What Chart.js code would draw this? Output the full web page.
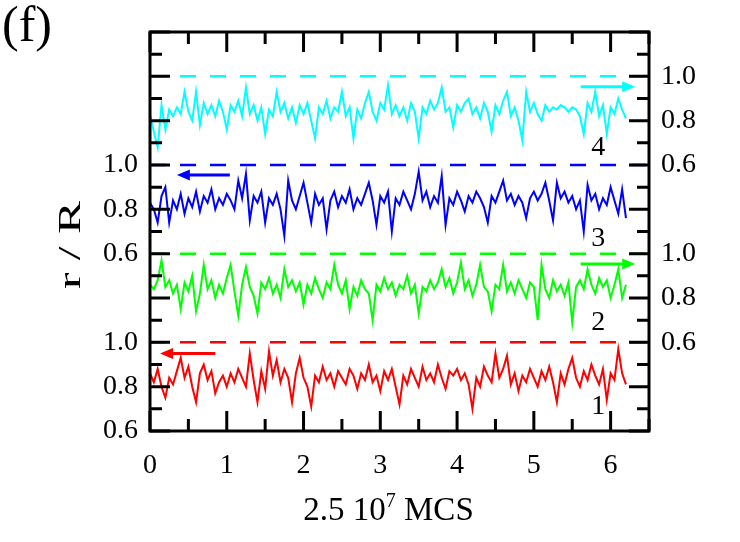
<!DOCTYPE html>
<html>
<head>
<meta charset="utf-8">
<script src="https://cdn.jsdelivr.net/npm/chart.js@4.4.1/dist/chart.umd.min.js"></script>
<style>
  html, body { margin: 0; padding: 0; background: #fff; }
  #wrap { width: 740px; height: 542px; }
</style>
</head>
<body>
<div id="wrap"><canvas id="chart" width="740" height="542"></canvas></div>
<script>
// sampling interval along x, in units of 2.5 10^7 MCS
const timeStep = 0.05;

// r / R for each run
const red = [0.86,0.82,0.88,0.80,0.75,0.84,0.81,0.87,0.93,0.84,0.89,0.80,0.73,0.86,0.90,0.83,0.87,0.77,0.82,0.85,
  0.80,0.86,0.82,0.88,0.84,0.80,0.95,0.83,0.73,0.87,0.79,0.96,0.85,0.92,0.82,0.88,0.84,0.73,0.86,0.93,
  0.84,0.80,0.71,0.85,0.82,0.89,0.83,0.86,0.80,0.87,0.84,0.81,0.88,0.85,0.79,0.86,0.83,0.90,0.82,0.85,
  0.78,0.87,0.83,0.88,0.80,0.72,0.85,0.81,0.88,0.84,0.80,0.89,0.83,0.86,0.82,0.90,0.84,0.79,0.87,0.85,
  0.88,0.83,0.86,0.81,0.70,0.84,0.80,0.89,0.85,0.82,0.95,0.84,0.88,0.94,0.81,0.86,0.78,0.85,0.82,0.88,
  0.84,0.80,0.87,0.83,0.89,0.82,0.73,0.86,0.81,0.88,0.93,0.84,0.80,0.87,0.83,0.90,0.85,0.81,0.88,0.74,
  0.86,0.83,0.97,0.86,0.81];
const green = [0.86,0.84,0.88,0.97,0.85,0.88,0.82,0.86,0.75,0.87,0.83,0.90,0.74,0.82,0.95,0.84,0.88,0.80,0.86,0.82,
  0.89,0.95,0.83,0.72,0.86,0.94,0.85,0.81,0.73,0.87,0.84,0.89,0.82,0.86,0.80,0.93,0.85,0.88,0.83,0.87,
  0.77,0.86,0.82,0.89,0.84,0.80,0.87,0.84,0.95,0.86,0.82,0.88,0.75,0.85,0.81,0.88,0.84,0.82,0.70,0.86,
  0.83,0.89,0.84,0.87,0.81,0.86,0.84,0.90,0.82,0.86,0.73,0.85,0.83,0.88,0.84,0.87,0.93,0.85,0.89,0.82,
  0.87,0.96,0.84,0.88,0.81,0.86,0.95,0.85,0.83,0.74,0.86,0.84,0.95,0.83,0.87,0.82,0.88,0.84,0.80,0.87,
  0.85,0.70,0.95,0.84,0.80,0.88,0.83,0.86,0.81,0.87,0.69,0.85,0.88,0.84,0.93,0.86,0.82,0.89,0.85,0.88,
  0.80,0.86,0.93,0.80,0.86];
const blue = [0.83,0.80,0.74,0.86,0.90,0.74,0.84,0.80,0.87,0.78,0.85,0.81,0.88,0.79,0.86,0.83,0.89,0.80,0.85,0.82,
  0.87,0.84,0.80,0.93,0.85,0.96,0.75,0.86,0.83,0.88,0.74,0.85,0.82,0.87,0.80,0.68,0.93,0.84,0.80,0.86,
  0.92,0.83,0.74,0.87,0.82,0.85,0.71,0.84,0.88,0.81,0.86,0.83,0.89,0.80,0.85,0.82,0.87,0.92,0.84,0.73,
  0.86,0.83,0.88,0.70,0.85,0.82,0.88,0.84,0.80,0.87,0.97,0.84,0.88,0.81,0.86,0.83,0.95,0.73,0.85,0.82,
  0.88,0.84,0.79,0.86,0.83,0.88,0.85,0.81,0.74,0.86,0.83,0.88,0.93,0.84,0.87,0.82,0.86,0.83,0.76,0.85,
  0.88,0.84,0.87,0.92,0.84,0.75,0.92,0.85,0.88,0.83,0.86,0.80,0.84,0.70,0.91,0.84,0.87,0.80,0.85,0.82,
  0.90,0.84,0.78,0.89,0.76];
const cyan = [0.83,0.75,0.68,0.87,0.76,0.85,0.82,0.86,0.83,0.93,0.84,0.80,0.93,0.78,0.88,0.83,0.87,0.82,0.89,0.84,
  0.76,0.87,0.84,0.89,0.82,0.95,0.83,0.87,0.80,0.86,0.74,0.85,0.82,0.93,0.84,0.88,0.81,0.86,0.79,0.87,
  0.83,0.88,0.80,0.72,0.86,0.83,0.89,0.81,0.86,0.84,0.93,0.82,0.86,0.72,0.85,0.81,0.88,0.93,0.84,0.80,
  0.88,0.85,0.96,0.83,0.87,0.82,0.86,0.80,0.88,0.84,0.72,0.86,0.83,0.89,0.85,0.88,0.95,0.84,0.86,0.77,
  0.87,0.84,0.88,0.90,0.83,0.86,0.81,0.88,0.84,0.75,0.87,0.83,0.89,0.93,0.82,0.86,0.80,0.71,0.93,0.84,
  0.88,0.83,0.80,0.87,0.84,0.86,0.85,0.87,0.86,0.84,0.86,0.85,0.82,0.74,0.88,0.84,0.93,0.82,0.87,0.74,
  0.86,0.83,0.90,0.85,0.81];

const seriesData = [red, green, blue, cyan];
const seriesNames = ['1', '2', '3', '4'];
const seriesColors = ['#ff0000', '#00ff00', '#0000ff', '#00ffff'];
const seriesOffsets = [0, 0.4, 0.8, 1.2];      // each run is shifted up by 0.4
const seriesSides = ['left', 'right', 'left', 'right'];
const stackTicks = [0.6, 0.8, 1.0];
const xTicks = [0, 1, 2, 3, 4, 5, 6];
const refLevel = 1.0;
const xMax = 6.5;
const yMin = 0.6, yMax = 2.4;

// arrows pointing at the axis each run belongs to: [x start, x end, r/R]
const arrows = [[0.85, 0.13, 0.95], [5.61, 6.32, 0.953], [1.04, 0.35, 0.955], [5.61, 6.32, 0.953]];
// run number labels: [x, r/R]
const labelPos = [[5.84, 0.71], [5.84, 0.69], [5.84, 0.67], [5.84, 0.68]];

const serif = "'Liberation Serif', 'Times New Roman', serif";

const datasets = [];
seriesData.forEach((vals, k) => {
  datasets.push({
    data: vals.map((v, i) => ({ x: i * timeStep, y: v + seriesOffsets[k] })),
    borderColor: seriesColors[k],
    borderWidth: 2,
    pointRadius: 0,
    tension: 0
  });
  datasets.push({
    data: [{ x: 0, y: refLevel + seriesOffsets[k] }, { x: xMax, y: refLevel + seriesOffsets[k] }],
    borderColor: seriesColors[k],
    borderWidth: 2.5,
    borderDash: [16, 14],
    pointRadius: 0
  });
});

function stackLabel(side) {
  return function (value) {
    for (let k = 0; k < seriesOffsets.length; k++) {
      if (seriesSides[k] !== side) continue;
      const local = Math.round((value - seriesOffsets[k]) * 10) / 10;
      if (stackTicks.some(t => Math.abs(t - local) < 1e-6)) return local.toFixed(1);
    }
    return '';
  };
}

const framePlugin = {
  id: 'frame',
  afterDatasetsDraw(chart) {
    const { ctx, chartArea: a, scales } = chart;
    const xs = scales.x, ys = scales.y;
    ctx.save();
    ctx.strokeStyle = '#000';
    ctx.lineWidth = 3;
    ctx.beginPath();
    for (let i = 0; i * 0.5 <= xMax; i++) {
      const px = xs.getPixelForValue(i * 0.5);
      const len = i % 2 === 0 ? 20 : 12;
      ctx.moveTo(px, a.bottom); ctx.lineTo(px, a.bottom - len);
      ctx.moveTo(px, a.top); ctx.lineTo(px, a.top + len);
    }
    for (let i = 0; yMin + i * 0.1 <= yMax + 1e-6; i++) {
      const py = ys.getPixelForValue(yMin + i * 0.1);
      const len = i % 2 === 0 ? 20 : 12;
      ctx.moveTo(a.left, py); ctx.lineTo(a.left + len, py);
      ctx.moveTo(a.right, py); ctx.lineTo(a.right - len, py);
    }
    ctx.stroke();
    ctx.strokeRect(a.left, a.top, a.width, a.height);

    // arrows
    arrows.forEach((ar, k) => {
      const x1 = xs.getPixelForValue(ar[0]);
      const x2 = xs.getPixelForValue(ar[1]);
      const py = ys.getPixelForValue(ar[2] + seriesOffsets[k]);
      const dir = x2 > x1 ? 1 : -1;
      ctx.strokeStyle = seriesColors[k];
      ctx.fillStyle = seriesColors[k];
      ctx.lineWidth = 3;
      ctx.beginPath();
      ctx.moveTo(x1, py); ctx.lineTo(x2 - dir * 10, py);
      ctx.stroke();
      ctx.beginPath();
      ctx.moveTo(x2, py);
      ctx.lineTo(x2 - dir * 13, py - 5.5);
      ctx.lineTo(x2 - dir * 13, py + 5.5);
      ctx.closePath();
      ctx.fill();
    });

    // run numbers
    ctx.fillStyle = '#000';
    ctx.font = '28px ' + serif;
    ctx.textAlign = 'center';
    ctx.textBaseline = 'middle';
    labelPos.forEach((p, k) => {
      ctx.fillText(seriesNames[k], xs.getPixelForValue(p[0]), ys.getPixelForValue(p[1] + seriesOffsets[k]));
    });

    // panel letter
    ctx.font = '50px ' + serif;
    ctx.textAlign = 'left';
    ctx.textBaseline = 'alphabetic';
    ctx.fillText('(f)', 2, 41);

    // y title (stretched along its length, as in the original)
    ctx.save();
    ctx.translate(80, 245);
    ctx.rotate(-Math.PI / 2);
    ctx.scale(1.6, 1);
    ctx.font = '31px ' + serif;
    ctx.textAlign = 'center';
    ctx.fillText('r / R', 0, 0);
    ctx.restore();

    // x title with superscript
    const big = '33px ' + serif, small = '20px ' + serif;
    const p1 = '2.5 10', p2 = '7', p3 = ' MCS';
    ctx.font = big; const w1 = ctx.measureText(p1).width, w3 = ctx.measureText(p3).width;
    ctx.font = small; const w2 = ctx.measureText(p2).width;
    let tx = (a.left + a.right) / 2 - 11 - (w1 + w2 + w3) / 2;
    const base = 520;
    ctx.font = big; ctx.fillText(p1, tx, base); tx += w1;
    ctx.font = small; ctx.fillText(p2, tx, base - 13); tx += w2;
    ctx.font = big; ctx.fillText(p3, tx, base);
    ctx.restore();
  }
};

new Chart(document.getElementById('chart'), {
  type: 'line',
  data: { datasets },
  options: {
    responsive: false,
    animation: false,
    events: [],
    plugins: { legend: { display: false }, tooltip: { enabled: false } },
    layout: { padding: { top: 32, left: 0, right: 0, bottom: 0 } },
    scales: {
      x: {
        type: 'linear', position: 'bottom', min: 0, max: xMax,
        grid: { display: false, drawTicks: false }, border: { display: false },
        afterFit(s) { s.height = 111; },
        ticks: {
          stepSize: 1, includeBounds: false, padding: 18, color: '#000',
          font: { family: serif, size: 28 },
          callback: v => (xTicks.includes(v) ? String(v) : '')
        }
      },
      y: {
        type: 'linear', position: 'left', min: yMin, max: yMax,
        grid: { display: false, drawTicks: false }, border: { display: false },
        afterFit(s) { s.width = 150; },
        ticks: { stepSize: 0.2, padding: 12, color: '#000', font: { family: serif, size: 28 }, callback: stackLabel('left') }
      },
      y2: {
        type: 'linear', position: 'right', min: yMin, max: yMax,
        grid: { display: false, drawTicks: false }, border: { display: false },
        afterFit(s) { s.width = 91; },
        ticks: { stepSize: 0.2, padding: 12, color: '#000', font: { family: serif, size: 28 }, callback: stackLabel('right') }
      }
    }
  },
  plugins: [framePlugin]
});
</script>
</body>
</html>
